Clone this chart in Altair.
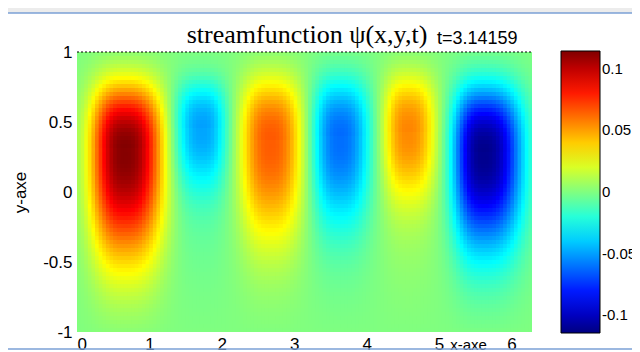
import numpy as np
import pandas as pd
import altair as alt

# ---- values ----
# blob centres, peak values and the x / y positions where each blob crosses
# the yellow / cyan contour (|psi| ~ 0.0285)
blob_x = [0.66, 1.73, 2.67, 3.63, 4.57, 5.61]
blob_y = [0.30, 0.46, 0.37, 0.39, 0.44, 0.28]
blob_peak = [0.114, -0.050, 0.066, -0.062, 0.056, -0.112]
blob_left = [0.14, 1.42, 2.29, 3.29, 4.28, 5.15]
blob_right = [1.24, 2.00, 3.08, 4.00, 4.90, 6.21]
blob_top = [0.84, 0.73, 0.80, 0.78, 0.79, 0.82]
blob_bottom = [-0.58, 0.09, -0.29, -0.18, 0.00, -0.51]
contour_level = 0.0285

x_ticks = [0, 1, 2, 3, 4, 5, 6]
y_ticks = [-1, -0.5, 0, 0.5, 1]
cb_ticks = [-0.1, -0.05, 0, 0.05, 0.1]
cb_limit = 0.1143
jet_colors = ["#000080", "#0000ff", "#00ffff", "#ffff00", "#ff0000", "#800000"]
jet_stops = [-1.0, -0.75, -0.25, 0.25, 0.75, 1.0]

title_text = "streamfunction \u03c8(x,y,t)"
time_text = "t=3.14159"

# ---- build the field on a grid ----
nx, ny = 126, 70
dx = 2 * np.pi / nx
dy = 2.0 / ny
xs = np.arange(nx) * dx
ys = -1 + np.arange(ny) * dy
X, Y = np.meshgrid(xs + dx / 2, ys + dy / 2)

P_X, P_UP, P_DN = 2.7, 2.7, 2.3
TAIL_W, TAIL_S = 0.24, 0.95


def wall(y):
    return np.sqrt(np.clip(1 - np.asarray(y, dtype=float) ** 2, 0, None))


psi = np.zeros_like(X)
for bx, by, pk, xl, xr, yt, yb in zip(blob_x, blob_y, blob_peak, blob_left,
                                      blob_right, blob_top, blob_bottom):
    ratio = contour_level / abs(pk)
    r = np.log(1 / ratio)
    sxl = (bx - xl) / r ** (1 / P_X)
    sxr = (xr - bx) / r ** (1 / P_X)
    su = (yt - by) / r ** (1 / P_UP)
    d_b = by - yb
    tail_b = TAIL_W * np.exp(-(d_b / TAIL_S) ** 2) * wall(yb)
    main_b = max((ratio - tail_b) / (1 - TAIL_W), 0.02)
    sd = d_b / np.log(1 / main_b) ** (1 / P_DN)
    sx = np.where(X < bx, sxl, sxr)
    gx = np.exp(-np.abs((X - bx) / sx) ** P_X)
    d = np.abs(Y - by)
    up = np.exp(-(d / su) ** P_UP) * wall(np.maximum(Y, 0)) ** 0.3
    down = (1 - TAIL_W) * np.exp(-(d / sd) ** P_DN) + \
        TAIL_W * np.exp(-(d / TAIL_S) ** 2) * wall(Y)
    gy = np.where(Y > by, up / wall(by) ** 0.3, down)
    psi += pk * gx * gy

XX, YY = np.meshgrid(xs, ys)
df = pd.DataFrame({
    "x": XX.ravel(),
    "x2": (XX + dx * 1.3).ravel(),
    "y": YY.ravel(),
    "y2": (YY + dy * 1.3).ravel(),
    "psi": psi.ravel(),
})

xscale = alt.Scale(domain=[0, 2 * np.pi], nice=False, zero=False)
yscale = alt.Scale(domain=[-1, 1], nice=False, zero=False)
cscale = alt.Scale(domain=[s * cb_limit for s in jet_stops], range=jet_colors,
                   interpolate="rgb", clamp=True)

FONT = "Liberation Sans"

heat = alt.Chart(df).mark_rect(clip=True, strokeWidth=0).encode(
    x=alt.X("x:Q", scale=xscale,
            axis=alt.Axis(values=x_ticks, labelFontSize=17, labelFont=FONT,
                          labelColor="black", labelPadding=4, ticks=False,
                          domain=False, grid=False, labelExpr="toString(datum.value)",
                          title="x-axe", titleFont=FONT, titleFontSize=15,
                          titleFontWeight="normal", titleColor="black",
                          titleX=391, titleY=12, titleAlign="center",
                          titleBaseline="middle")),
    x2="x2:Q",
    y=alt.Y("y:Q", scale=yscale,
            axis=alt.Axis(values=y_ticks, labelFontSize=17, labelFont=FONT,
                          labelColor="black", labelPadding=5, ticks=False,
                          domain=False, grid=False, labelExpr="toString(datum.value)",
                          title="y-axe", titleFont=FONT, titleFontSize=17,
                          titleFontWeight="normal", titleColor="black",
                          titleX=-57, titleY=140, titleAngle=-90,
                          titleAlign="center", titleBaseline="middle")),
    y2="y2:Q",
    color=alt.Color("psi:Q", scale=cscale,
                    legend=alt.Legend(orient="none", legendX=484, legendY=-1,
                                      direction="vertical", title=None,
                                      values=cb_ticks, gradientLength=282,
                                      gradientThickness=39,
                                      gradientStrokeColor="black",
                                      gradientStrokeWidth=1,
                                      labelFont=FONT, labelFontSize=15,
                                      labelColor="black", labelOffset=2,
                                      labelOverlap=False,
                                      labelExpr="toString(datum.value)")),
)

one = pd.DataFrame({"k": [0]})

top_dotted = alt.Chart(one).mark_rule(color="black", strokeWidth=1,
                                      strokeDash=[2, 2]).encode(
    x=alt.value(0), x2=alt.value(455), y=alt.value(0))

frame_grey = alt.Chart(one).mark_rect(color="#ececec").encode(
    x=alt.value(-69), x2=alt.value(563), y=alt.value(-44), y2=alt.value(-39))
frame_line = alt.Chart(one).mark_rule(color="#7ba1d6", strokeWidth=1.5).encode(
    x=alt.value(-69), x2=alt.value(563), y=alt.value(-39))
frame_bottom = alt.Chart(one).mark_rule(color="#7ba1d6", strokeWidth=1.5).encode(
    x=alt.value(-69), x2=alt.value(563), y=alt.value(297))

cb_df = pd.DataFrame({"v": cb_ticks})
cb_df["yy"] = cb_df["v"] / cb_limit * 141 / 140
cb_tick_l = alt.Chart(cb_df).mark_rule(color="black", strokeWidth=1).encode(
    x=alt.value(484), x2=alt.value(487), y=alt.Y("yy:Q", scale=yscale))
cb_tick_r = alt.Chart(cb_df).mark_rule(color="black", strokeWidth=1).encode(
    x=alt.value(520), x2=alt.value(523), y=alt.Y("yy:Q", scale=yscale))

title_df = pd.DataFrame({"t": [title_text]})
title = alt.Chart(title_df).mark_text(font="Liberation Serif", fontSize=26,
                                      align="center", baseline="alphabetic",
                                      color="black").encode(
    x=alt.value(230), y=alt.value(-9), text="t:N")
time_df = pd.DataFrame({"t": [time_text]})
tlabel = alt.Chart(time_df).mark_text(font=FONT, fontSize=18, align="left",
                                      baseline="alphabetic", color="black").encode(
    x=alt.value(360), y=alt.value(-8), text="t:N")

chart = alt.layer(frame_grey, frame_line, frame_bottom, heat, top_dotted,
                  cb_tick_l, cb_tick_r, title, tlabel).properties(
    width=455, height=280,
    autosize=alt.AutoSizeParams(type="none"),
    padding={"left": 69, "top": 44, "right": 100, "bottom": 20},
    background="white",
).configure_view(strokeWidth=0)

chart.save("out.html", embed_options={"renderer": "svg", "actions": False})
